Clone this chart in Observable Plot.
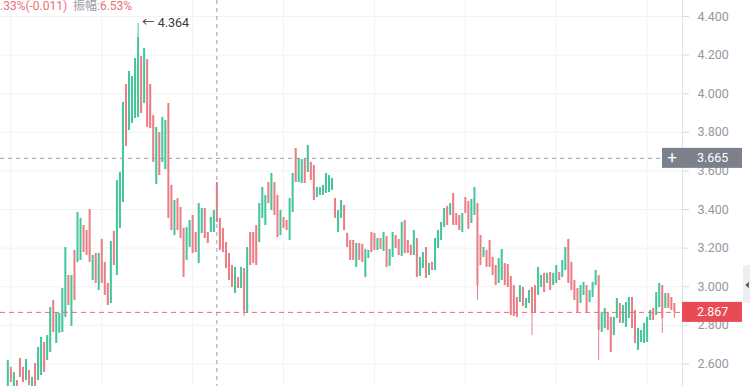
<!DOCTYPE html>
<html><head><meta charset="utf-8">
<script src="https://cdn.jsdelivr.net/npm/d3@7"></script>
<script src="https://cdn.jsdelivr.net/npm/@observablehq/plot@0.6"></script>
<style>
html,body{margin:0;padding:0;background:#fff;overflow:hidden}
#chart svg{display:block}
</style></head><body><div id="chart"></div>
<script>
const open=[2.452,2.582,2.452,2.514,2.628,2.582,2.514,2.566,2.452,2.602,
2.514,2.540,2.711,2.618,2.659,2.929,2.706,2.758,2.763,2.841,
3.058,2.794,3.188,3.126,3.136,3.317,3.291,3.400,3.032,3.172,
2.980,3.245,3.126,3.017,2.913,3.286,3.058,3.302,3.436,4.048,
3.809,3.846,3.872,3.877,4.193,3.949,4.177,4.048,3.887,3.530,
3.799,3.644,3.607,3.949,3.525,3.265,3.457,3.411,3.302,3.136,
3.203,3.369,3.281,3.120,3.276,3.405,3.281,3.281,3.281,3.540,
3.354,3.302,3.229,3.172,3.110,2.965,3.048,2.991,3.094,2.861,
3.281,3.281,3.317,3.229,3.354,3.317,3.540,3.395,3.540,3.473,
3.265,3.359,3.343,3.240,3.385,3.716,3.540,3.535,3.664,3.592,
3.644,3.628,3.462,3.473,3.473,3.483,3.488,3.499,3.457,3.281,
3.354,3.421,3.276,3.240,3.240,3.100,3.224,3.219,3.048,3.146,
3.281,3.276,3.188,3.250,3.183,3.260,3.105,3.152,3.265,3.245,
3.157,3.343,3.240,3.214,3.162,3.250,3.053,3.094,3.203,3.058,
3.126,3.084,3.198,3.240,3.307,3.416,3.369,3.483,3.379,3.369,
3.281,3.462,3.442,3.328,3.369,3.431,3.265,3.152,3.188,3.240,
3.152,3.110,3.017,3.032,3.120,3.115,3.053,3.006,2.944,2.918,
2.996,2.887,2.913,2.996,3.006,2.955,2.996,3.069,3.017,3.074,
3.006,3.017,3.074,3.048,3.084,3.245,3.126,3.032,2.991,2.913,
2.955,3.006,2.918,2.944,3.006,3.058,2.763,2.784,2.867,2.841,
2.747,2.836,2.913,2.810,2.789,2.836,2.944,2.877,2.670,2.711,
2.706,2.711,2.825,2.887,2.851,2.892,3.006,2.887,2.965,2.944,2.913];
const close=[2.618,2.504,2.556,2.436,2.530,2.504,2.623,2.488,2.530,2.462,
2.685,2.737,2.556,2.747,2.892,2.763,2.861,2.861,2.991,3.203,
2.903,3.058,2.929,3.385,3.354,3.177,3.162,3.126,3.162,3.017,
3.172,3.017,2.955,2.903,3.234,3.110,3.550,3.592,3.955,3.727,
4.115,4.089,4.182,4.291,3.898,4.234,3.825,3.820,3.644,3.825,
3.576,3.877,3.861,3.354,3.291,3.447,3.291,3.250,3.048,3.307,
3.343,3.172,3.177,3.431,3.405,3.250,3.224,3.359,3.395,3.333,
3.188,3.177,3.094,3.032,2.996,3.100,2.991,3.100,2.870,3.203,
3.110,3.120,3.110,3.431,3.514,3.473,3.431,3.587,3.369,3.255,
3.395,3.302,3.291,3.457,3.587,3.540,3.664,3.659,3.535,3.732,
3.550,3.447,3.514,3.514,3.525,3.587,3.576,3.561,3.354,3.395,
3.447,3.291,3.203,3.136,3.136,3.224,3.136,3.126,3.193,3.188,
3.177,3.188,3.250,3.193,3.281,3.100,3.193,3.281,3.198,3.162,
3.333,3.172,3.172,3.162,3.291,3.048,3.152,3.177,3.043,3.120,
3.084,3.250,3.291,3.333,3.405,3.317,3.431,3.317,3.317,3.291,
3.379,3.379,3.297,3.452,3.514,3.006,3.110,3.203,3.100,3.100,
3.058,3.006,3.146,3.193,3.006,2.996,2.851,2.846,2.841,3.006,
2.898,2.939,2.980,2.867,2.867,3.100,3.058,2.970,3.069,2.980,
3.069,3.110,3.032,3.136,3.203,3.017,2.980,2.929,2.867,3.006,
3.022,2.867,2.980,3.022,3.084,2.773,2.867,2.887,2.773,2.659,
2.841,2.939,2.810,2.903,2.918,2.944,2.784,2.706,2.784,2.773,
2.810,2.841,2.877,2.825,2.970,3.017,2.836,2.965,2.887,2.877,2.867];
const high=[2.618,2.582,2.556,2.514,2.628,2.582,2.623,2.566,2.530,2.602,
2.685,2.737,2.711,2.747,2.892,2.929,2.861,2.861,2.991,3.203,
3.058,3.058,3.188,3.385,3.354,3.317,3.291,3.400,3.162,3.172,
3.172,3.245,3.126,3.017,3.234,3.286,3.550,3.592,3.955,4.048,
4.115,4.089,4.182,4.364,4.193,4.234,4.177,4.048,3.887,3.825,
3.799,3.877,3.861,3.949,3.525,3.447,3.457,3.411,3.302,3.307,
3.343,3.369,3.281,3.431,3.405,3.405,3.281,3.359,3.395,3.540,
3.354,3.302,3.229,3.172,3.110,3.100,3.048,3.100,3.094,3.203,
3.281,3.281,3.317,3.431,3.514,3.473,3.540,3.587,3.540,3.473,
3.395,3.359,3.343,3.457,3.587,3.716,3.664,3.659,3.664,3.732,
3.644,3.628,3.514,3.514,3.525,3.587,3.576,3.561,3.457,3.395,
3.447,3.421,3.276,3.240,3.240,3.224,3.224,3.219,3.193,3.188,
3.281,3.276,3.250,3.250,3.281,3.260,3.193,3.281,3.265,3.245,
3.333,3.343,3.240,3.214,3.291,3.250,3.152,3.177,3.203,3.120,
3.126,3.250,3.291,3.333,3.405,3.416,3.431,3.483,3.379,3.369,
3.379,3.462,3.442,3.452,3.514,3.431,3.265,3.203,3.188,3.240,
3.152,3.110,3.146,3.193,3.120,3.115,3.053,3.006,2.944,3.006,
2.996,2.939,2.980,2.996,3.006,3.100,3.058,3.069,3.069,3.074,
3.069,3.110,3.074,3.136,3.203,3.245,3.126,3.032,2.991,3.006,
3.022,3.006,2.980,3.022,3.084,3.058,2.867,2.887,2.867,2.841,
2.841,2.939,2.913,2.903,2.918,2.944,2.944,2.877,2.784,2.773,
2.810,2.841,2.877,2.887,2.970,3.017,3.006,2.965,2.965,2.944,2.913];
const low=[2.452,2.504,2.452,2.436,2.530,2.504,2.514,2.488,2.452,2.462,
2.514,2.540,2.556,2.618,2.659,2.763,2.706,2.758,2.763,2.841,
2.903,2.794,2.929,3.126,3.136,3.177,3.162,3.126,3.032,3.017,
2.980,3.017,2.955,2.903,2.913,3.110,3.058,3.302,3.436,3.727,
3.809,3.846,3.872,3.877,3.898,3.949,3.825,3.820,3.644,3.530,
3.576,3.644,3.607,3.354,3.291,3.265,3.291,3.250,3.048,3.136,
3.203,3.172,3.177,3.120,3.276,3.250,3.224,3.281,3.281,3.333,
3.188,3.177,3.094,3.032,2.996,2.965,2.991,2.991,2.846,2.861,
3.110,3.120,3.110,3.229,3.354,3.317,3.431,3.395,3.369,3.255,
3.265,3.302,3.291,3.240,3.385,3.540,3.540,3.535,3.535,3.592,
3.550,3.447,3.462,3.473,3.473,3.483,3.488,3.499,3.354,3.281,
3.354,3.291,3.203,3.136,3.136,3.100,3.136,3.126,3.048,3.146,
3.177,3.188,3.188,3.193,3.183,3.100,3.105,3.152,3.198,3.162,
3.157,3.172,3.172,3.162,3.162,3.048,3.053,3.094,3.043,3.058,
3.084,3.084,3.198,3.240,3.307,3.317,3.369,3.317,3.317,3.291,
3.281,3.379,3.297,3.328,3.369,2.929,3.110,3.152,3.100,3.100,
3.058,3.006,3.017,3.032,3.006,2.996,2.851,2.846,2.841,2.918,
2.898,2.887,2.913,2.747,2.867,2.955,2.996,2.970,3.017,2.980,
3.006,3.017,3.032,3.048,3.084,3.017,2.980,2.929,2.867,2.913,
2.955,2.867,2.918,2.944,3.006,2.618,2.763,2.784,2.773,2.659,
2.747,2.836,2.810,2.810,2.789,2.836,2.784,2.706,2.670,2.711,
2.706,2.711,2.825,2.825,2.851,2.892,2.758,2.887,2.887,2.877,2.836];

const yTicks=[2.6,2.8,3.0,3.2,3.4,3.6,3.8,4.0,4.2,4.4];
const vGridIdx=[1,31,61,91,121,151,181,211];
const crossIndex=69, crossValue=3.665;
const lastValue=2.867;
const peak={i:43, v:4.364};
const headerRed1=".33%(-0.011)", headerGray="振幅:", headerRed2="6.53%";

const GREEN="#45c59c", RED="#ec7d84";
const xDomain=[-2.41,222.67], yDomain=[2.483,4.483];
const candles=open.map((o,i)=>({i,open:o,close:close[i],high:high[i],low:low[i]}));
const col=d=>d.close>=d.open?GREEN:RED;

const chart=Plot.plot({
  width:750,height:386,marginLeft:0,marginRight:68,marginTop:0,marginBottom:0,
  style:{fontFamily:"Roboto, 'Noto Sans CJK SC', sans-serif",fontSize:"12px",color:"#9598a1",background:"#fff",overflow:"hidden"},
  x:{domain:xDomain,axis:null},
  y:{domain:yDomain,axis:null},
  color:{type:"identity"},
  marks:[
    Plot.gridY(yTicks,{stroke:"#f1f2f4",strokeOpacity:1}),
    Plot.ruleX(vGridIdx,{stroke:"#f1f2f4"}),
    Plot.ruleX([xDomain[1]],{stroke:"#e1e3e8"}),
    Plot.axisY(yTicks,{anchor:"right",tickSize:6,tickPadding:9,tickFormat:d3.format(".3f"),stroke:"#d8dbe0",fill:"#9598a1",fontSize:12.5}),
    Plot.ruleX(candles,{x:"i",y1:"low",y2:"high",stroke:col,strokeWidth:1,clip:true}),
    Plot.ruleX(candles,{x:"i",y1:"open",y2:"close",stroke:col,strokeWidth:2,clip:true}),
    Plot.ruleX([crossIndex],{stroke:"#9a9ea8",strokeDasharray:"4,4"}),
    Plot.ruleY([crossValue],{stroke:"#9a9ea8",strokeDasharray:"4,4"}),
    Plot.ruleY([lastValue],{stroke:"#ee6a71",strokeDasharray:"5,4"}),
    Plot.text([peak],{x:"i",y:"v",text:d=>"← "+d.v.toFixed(3),textAnchor:"start",dx:4,fill:"#3a3a3a",fontSize:12.5})
  ]
});
document.getElementById("chart").appendChild(chart);

const sx=chart.scale("x"), sy=chart.scale("y");
const svg=d3.select(chart);
const xr=sx.apply(xDomain[1]);
const font="Roboto, 'Noto Sans CJK SC', sans-serif";
const g=svg.append("g").attr("text-anchor","start").attr("font-family",font);
// crosshair price label
const yc=sy.apply(crossValue);
g.append("rect").attr("x",xr-20).attr("y",yc-10).attr("width",80).attr("height",20).attr("fill","#7c808a");
g.append("text").attr("x",xr-10).attr("y",yc+5.5).attr("text-anchor","middle").attr("fill","#fff").attr("font-size",17).text("+");
g.append("text").attr("x",xr+15).attr("y",yc+4.5).attr("fill","#fff").attr("font-size",12.5).text(crossValue.toFixed(3));
// last price label
const yl=sy.apply(lastValue);
g.append("rect").attr("x",xr).attr("y",yl-10).attr("width",60).attr("height",20).attr("fill","#e84b53");
g.append("text").attr("x",xr+15).attr("y",yl+4.5).attr("fill","#fff").attr("font-size",12.5).text(lastValue.toFixed(3));
// header text
g.append("text").attr("x",0).attr("y",9.5).attr("font-size",12).attr("fill","#ea7077").text(headerRed1);
const h2=g.append("text").attr("x",73).attr("y",9.5).attr("font-size",12);
h2.append("tspan").attr("fill","#9a9da4").text(headerGray);
h2.append("tspan").attr("fill","#ea7077").text(headerRed2);
// right side tab
g.append("rect").attr("x",743).attr("y",265).attr("width",10).attr("height",38).attr("rx",3).attr("fill","#eceef1");
g.append("path").attr("d","M745.5,285 L748.8,281.8 L748.8,288.2 Z").attr("fill","#555");
</script></body></html>
